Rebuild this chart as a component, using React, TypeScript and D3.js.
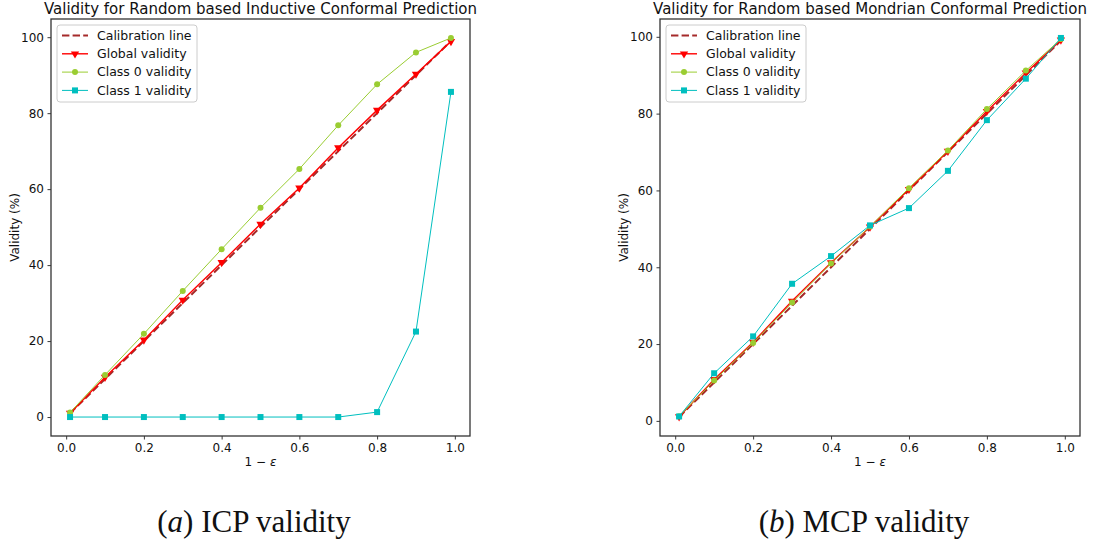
import React, { useRef, useEffect } from 'react';
import * as d3 from 'd3';

// 1 - epsilon values
const xVals = [0.01, 0.1, 0.2, 0.3, 0.4, 0.5, 0.6, 0.7, 0.8, 0.9, 0.99];
const calibration = [1, 10, 20, 30, 40, 50, 60, 70, 80, 90, 99];

// (a) ICP
const icpGlobal = [1.0, 10.5, 20.3, 30.8, 40.7, 50.8, 60.3, 70.9, 80.8, 90.3, 98.9];
const icpClass0 = [1.2, 11.1, 21.9, 33.2, 44.2, 55.1, 65.3, 76.8, 87.6, 96.0, 99.8];
const icpClass1 = [0, 0, 0, 0, 0, 0, 0, 0, 1.3, 22.5, 85.6];

// (b) MCP
const mcpGlobal = [1.1, 10.8, 20.5, 31.2, 41.2, 50.5, 60.3, 70.2, 80.6, 90.6, 99.2];
const mcpClass0 = [1.2, 10.5, 20.3, 30.8, 41.0, 50.6, 60.6, 70.4, 81.2, 91.2, 99.4];
const mcpClass1 = [1.15, 12.4, 22.0, 35.7, 42.9, 50.9, 55.4, 65.1, 78.3, 89.1, 99.7];

const xTicks = [0, 0.2, 0.4, 0.6, 0.8, 1.0];
const yTicks = [0, 20, 40, 60, 80, 100];
const legendLabels = ['Calibration line', 'Global validity', 'Class 0 validity', 'Class 1 validity'];

const FONT = 'DejaVu Sans, sans-serif';
const COLORS = { calib: '#a52a2a', global: '#ff0000', c0: '#9acd32', c1: '#00bfbf' };

type PanelProps = {
  title: string;
  frame: { x0: number; x1: number; y0: number; y1: number };
  global: number[];
  class0: number[];
  class1: number[];
};

const Panel = ({ title, frame, global, class0, class1 }: PanelProps) => {
  const gRef = useRef<SVGGElement>(null);

  useEffect(() => {
    const g = d3.select(gRef.current);
    g.selectAll('*').remove();

    const allY = [...calibration, ...global, ...class0, ...class1];
    const yMin = d3.min(allY)!;
    const yMax = d3.max(allY)!;
    const yPad = (yMax - yMin) * 0.05;
    const xMin = d3.min(xVals)!;
    const xMax = d3.max(xVals)!;
    const xPad = (xMax - xMin) * 0.05;

    const x = d3.scaleLinear().domain([xMin - xPad, xMax + xPad]).range([frame.x0, frame.x1]);
    const y = d3.scaleLinear().domain([yMin - yPad, yMax + yPad]).range([frame.y1, frame.y0]);

    // axes
    const xAxis = g.append('g')
      .attr('transform', `translate(0, ${frame.y1})`)
      .call(d3.axisBottom(x).tickValues(xTicks).tickFormat(d3.format('.1f')).tickSize(3.5).tickPadding(3.5));
    const yAxis = g.append('g')
      .attr('transform', `translate(${frame.x0}, 0)`)
      .call(d3.axisLeft(y).tickValues(yTicks).tickFormat(d3.format('d')).tickSize(3.5).tickPadding(3.5));
    [xAxis, yAxis].forEach(a => {
      a.select('.domain').remove();
      a.selectAll('line').attr('stroke', '#222').attr('stroke-width', 0.9);
      a.selectAll('text').attr('font-family', FONT).attr('font-size', 12).attr('fill', '#111');
    });

    const line = d3.line<number>().x((_, i) => x(xVals[i])).y(d => y(d));

    // calibration
    g.append('path').datum(calibration).attr('d', line).attr('fill', 'none')
      .attr('stroke', COLORS.calib).attr('stroke-width', 2).attr('stroke-dasharray', '7.4,3.2');

    // global validity
    g.append('path').datum(global).attr('d', line).attr('fill', 'none')
      .attr('stroke', COLORS.global).attr('stroke-width', 1.4);
    const tri = d3.symbol().type(d3.symbolTriangle).size(30);
    g.selectAll('.tri').data(global).enter().append('path')
      .attr('d', tri)
      .attr('transform', (d, i) => `translate(${x(xVals[i])}, ${y(d)}) rotate(180)`)
      .attr('fill', COLORS.global);

    // class 0
    g.append('path').datum(class0).attr('d', line).attr('fill', 'none')
      .attr('stroke', COLORS.c0).attr('stroke-width', 1);
    g.selectAll('.c0').data(class0).enter().append('circle')
      .attr('cx', (_, i) => x(xVals[i])).attr('cy', d => y(d)).attr('r', 3)
      .attr('fill', COLORS.c0);

    // class 1
    g.append('path').datum(class1).attr('d', line).attr('fill', 'none')
      .attr('stroke', COLORS.c1).attr('stroke-width', 1);
    g.selectAll('.c1').data(class1).enter().append('rect')
      .attr('x', (_, i) => x(xVals[i]) - 3).attr('y', d => y(d) - 3)
      .attr('width', 6).attr('height', 6)
      .attr('fill', COLORS.c1);

    // frame
    g.append('rect')
      .attr('x', frame.x0).attr('y', frame.y0)
      .attr('width', frame.x1 - frame.x0).attr('height', frame.y1 - frame.y0)
      .attr('fill', 'none').attr('stroke', '#333').attr('stroke-width', 1.3);

    // title and labels
    g.append('text')
      .attr('x', (frame.x0 + frame.x1) / 2).attr('y', frame.y0 - 5)
      .attr('text-anchor', 'middle').attr('font-family', FONT).attr('font-size', 15)
      .attr('fill', '#111').text(title);

    const xl = g.append('text')
      .attr('x', (frame.x0 + frame.x1) / 2).attr('y', frame.y1 + 30)
      .attr('text-anchor', 'middle').attr('font-family', FONT).attr('font-size', 12).attr('fill', '#111');
    xl.append('tspan').text('1 \u2212 ');
    xl.append('tspan').attr('font-style', 'italic').text('\u03b5');

    g.append('text')
      .attr('transform', `translate(${frame.x0 - 32}, ${(frame.y0 + frame.y1) / 2}) rotate(-90)`)
      .attr('text-anchor', 'middle').attr('font-family', FONT).attr('font-size', 12)
      .attr('fill', '#111').text('Validity (%)');

    // legend
    const lx = frame.x0 + 6;
    const ly = frame.y0 + 6;
    const leg = g.append('g');
    leg.append('rect').attr('x', lx).attr('y', ly).attr('width', 140).attr('height', 77)
      .attr('rx', 3).attr('fill', 'white').attr('fill-opacity', 0.8)
      .attr('stroke', '#ccc').attr('stroke-width', 1);
    const rowY = (i: number) => ly + 10.5 + i * 18.3;
    const hx0 = lx + 5;
    const hx1 = lx + 31;
    const hmid = (hx0 + hx1) / 2;
    const styles = [
      { c: COLORS.calib, w: 2, dash: '7.4,3.2' },
      { c: COLORS.global, w: 1.4, dash: null },
      { c: COLORS.c0, w: 1, dash: null },
      { c: COLORS.c1, w: 1, dash: null },
    ];
    legendLabels.forEach((lab, i) => {
      const s = styles[i];
      const ln = leg.append('line').attr('x1', hx0).attr('x2', hx1).attr('y1', rowY(i)).attr('y2', rowY(i))
        .attr('stroke', s.c).attr('stroke-width', s.w);
      if (s.dash) ln.attr('stroke-dasharray', s.dash);
      if (i === 1) {
        leg.append('path').attr('d', tri).attr('transform', `translate(${hmid}, ${rowY(i)}) rotate(180)`)
          .attr('fill', s.c);
      } else if (i === 2) {
        leg.append('circle').attr('cx', hmid).attr('cy', rowY(i)).attr('r', 3).attr('fill', s.c);
      } else if (i === 3) {
        leg.append('rect').attr('x', hmid - 3).attr('y', rowY(i) - 3).attr('width', 6).attr('height', 6).attr('fill', s.c);
      }
      leg.append('text').attr('x', lx + 40).attr('y', rowY(i)).attr('dy', '0.35em')
        .attr('font-family', FONT).attr('font-size', 12.5).attr('fill', '#111').text(lab);
    });
  }, [title, frame, global, class0, class1]);

  return <g ref={gRef} />;
};

const Caption = ({ x, letter, text }: { x: number; letter: string; text: string }) => (
  <text x={x} y={532} textAnchor="middle" fontFamily="Liberation Serif, serif" fontSize={31} fill="#111">
    (<tspan fontStyle="italic">{letter}</tspan>) {text}
  </text>
);

const App = () => (
  <svg width={1093} height={544} style={{ position: 'absolute', left: 0, top: 0, background: 'white' }}>
    <Panel
      title="Validity for Random based Inductive Conformal Prediction"
      frame={{ x0: 51, x1: 470, y0: 19, y1: 436 }}
      global={icpGlobal}
      class0={icpClass0}
      class1={icpClass1}
    />
    <Panel
      title="Validity for Random based Mondrian Conformal Prediction"
      frame={{ x0: 660, x1: 1080, y0: 19, y1: 436 }}
      global={mcpGlobal}
      class0={mcpClass0}
      class1={mcpClass1}
    />
    <Caption x={254} letter="a" text="ICP validity" />
    <Caption x={864} letter="b" text="MCP validity" />
  </svg>
);

export default App;
